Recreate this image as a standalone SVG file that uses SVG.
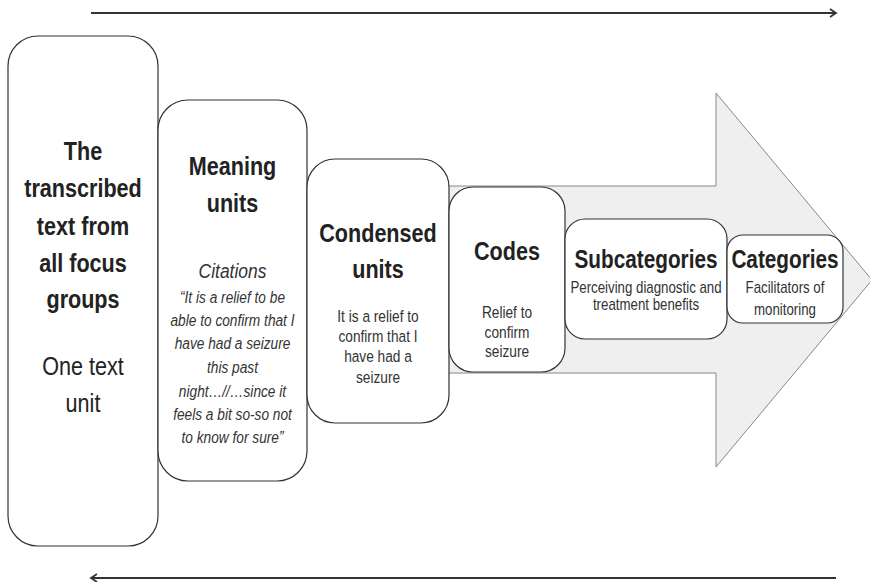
<svg xmlns="http://www.w3.org/2000/svg" width="870" height="582" viewBox="0 0 870 582">
<style>
text{font-family:"Liberation Sans",Arial,sans-serif;text-anchor:middle;fill:#222}
.h{font-weight:bold;font-size:26px}
.hs{font-weight:bold;font-size:25px}
.r{font-size:26px}
.it{font-style:italic;font-size:21px;fill:#333}
.q{font-style:italic;font-size:16.5px;fill:#333}
.b{font-size:16.5px;fill:#333}
.s{font-size:16px;fill:#333}
.box{fill:#fff;stroke:#333;stroke-width:1.2}
.ln{stroke:#333;stroke-width:2;fill:none}
</style>
<defs>
<marker id="ah" markerWidth="10" markerHeight="10" refX="8" refY="5" orient="auto" markerUnits="userSpaceOnUse">
<path d="M2,1 L8,5 L2,9" fill="none" stroke="#333" stroke-width="1.8"/>
</marker>
</defs>
<g id="connectors">
<line class="ln" x1="91" y1="13" x2="836" y2="13" marker-end="url(#ah)"/>
<line class="ln" x1="836" y1="578" x2="91" y2="578" marker-end="url(#ah)"/>
<path id="big-arrow" d="M400,186 L716,186 L716,93 L872,280 L716,467 L716,373 L400,373 Z" fill="#efefef" stroke="#888" stroke-width="1"/>
</g>
<g id="node-text">
<rect class="box" x="8" y="36" width="150" height="510" rx="30"/>
<g transform="translate(83 0) scale(0.83 1)">
<text class="h" x="0" y="160">The</text>
<text class="h" x="0" y="197">transcribed</text>
<text class="h" x="0" y="235">text from</text>
<text class="h" x="0" y="272">all focus</text>
<text class="h" x="0" y="308">groups</text>
<text class="r" x="0" y="375">One text</text>
<text class="r" x="0" y="412">unit</text>
</g>
</g>
<g id="node-meaning">
<rect class="box" x="158" y="100" width="149" height="381" rx="30"/>
<g transform="translate(232.5 0) scale(0.83 1)">
<text class="h" x="0" y="175">Meaning</text>
<text class="h" x="0" y="212">units</text>
<text class="it" x="0" y="278">Citations</text>
<text class="q" x="0" y="303">“It is a relief to be</text>
<text class="q" x="0" y="326">able to confirm that I</text>
<text class="q" x="0" y="349">have had a seizure</text>
<text class="q" x="0" y="373">this past</text>
<text class="q" x="0" y="397">night…//…since it</text>
<text class="q" x="0" y="420">feels a bit so-so not</text>
<text class="q" x="0" y="443">to know for sure”</text>
</g>
</g>
<g id="node-condensed">
<rect class="box" x="307" y="159" width="142" height="264" rx="28"/>
<g transform="translate(378 0) scale(0.83 1)">
<text class="h" x="0" y="242">Condensed</text>
<text class="h" x="0" y="278">units</text>
<text class="b" x="0" y="322">It is a relief to</text>
<text class="b" x="0" y="342">confirm that I</text>
<text class="b" x="0" y="362">have had a</text>
<text class="b" x="0" y="383">seizure</text>
</g>
</g>
<g id="node-codes">
<rect class="box" x="449" y="187" width="116" height="185" rx="24"/>
<g transform="translate(507 0) scale(0.83 1)">
<text class="h" x="0" y="260">Codes</text>
<text class="b" x="0" y="318">Relief to</text>
<text class="b" x="0" y="338">confirm</text>
<text class="b" x="0" y="357">seizure</text>
</g>
</g>
<g id="node-subcategories">
<rect class="box" x="565" y="219" width="162" height="120" rx="20"/>
<g transform="translate(646 0) scale(0.83 1)">
<text class="hs" x="0" y="268">Subcategories</text>
<text class="s" x="0" y="293">Perceiving diagnostic and</text>
<text class="s" x="0" y="310">treatment benefits</text>
</g>
</g>
<g id="node-categories">
<rect class="box" x="727" y="235" width="116" height="88" rx="16"/>
<g transform="translate(785 0) scale(0.83 1)">
<text class="hs" x="0" y="268">Categories</text>
<text class="s" x="0" y="293">Facilitators of</text>
<text class="s" x="0" y="315">monitoring</text>
</g>
</g>
</svg>
